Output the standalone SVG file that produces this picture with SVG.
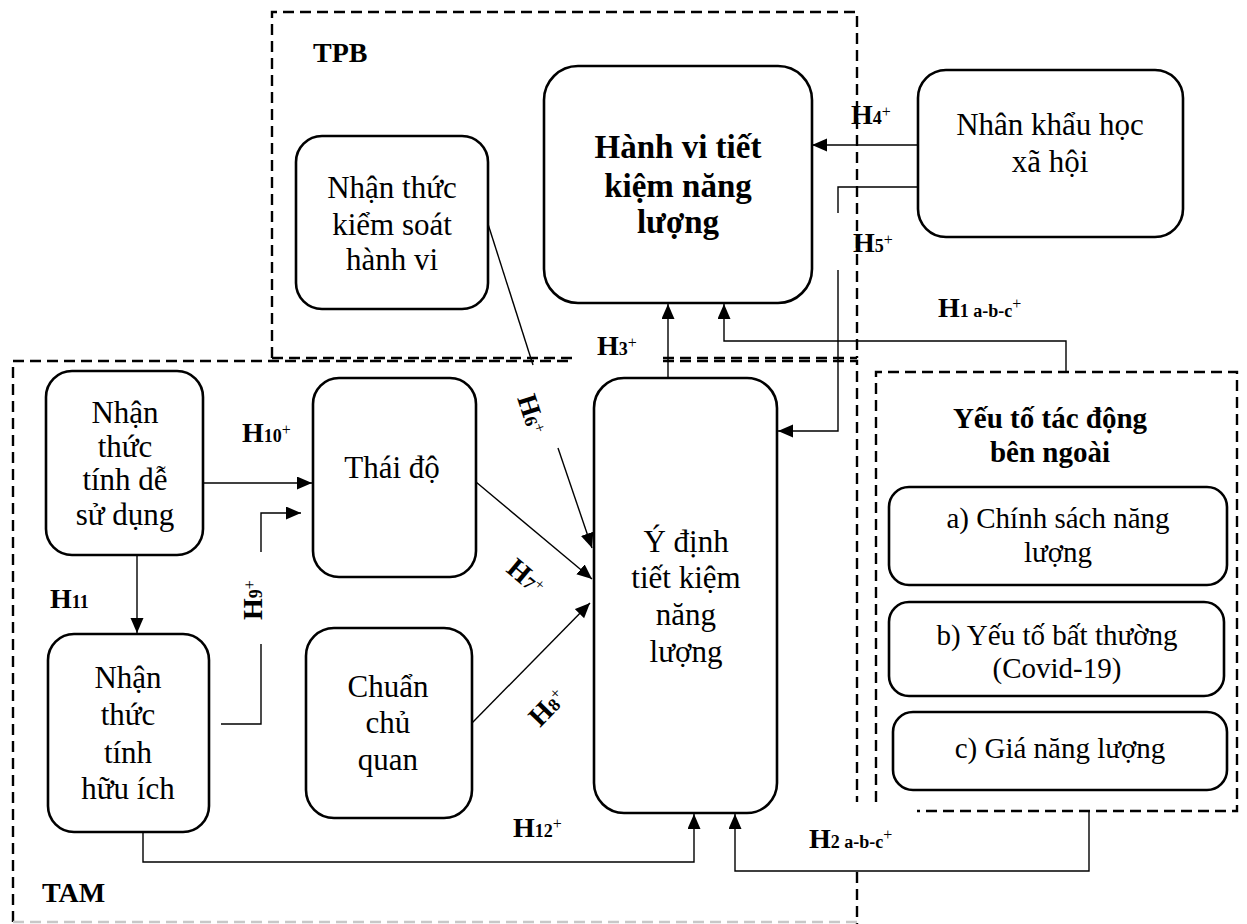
<svg xmlns="http://www.w3.org/2000/svg" width="1247" height="924" viewBox="0 0 1247 924">
<defs>
<marker id="ah" markerUnits="userSpaceOnUse" markerWidth="16" markerHeight="14" refX="15" refY="6.5" orient="auto">
<path d="M0,0 L15,6.5 L0,13 Z" fill="#000"/>
</marker>
<style>
.node{fill:#fff;stroke:#000;stroke-width:2.6}
.t{font-family:"Liberation Serif","Times New Roman",serif;font-size:31px;fill:#000;text-anchor:middle}
.ts{font-family:"Liberation Serif","Times New Roman",serif;font-size:29px;fill:#000;text-anchor:middle}
.tb{font-family:"Liberation Serif","Times New Roman",serif;font-size:33px;font-weight:bold;fill:#000;text-anchor:middle}
.title{font-family:"Liberation Serif","Times New Roman",serif;font-size:29px;font-weight:bold;fill:#000;text-anchor:middle}
.grp{font-family:"Liberation Serif","Times New Roman",serif;font-size:28px;font-weight:bold;fill:#000}
.dash{fill:none;stroke:#000;stroke-width:2.4;stroke-dasharray:11 6}
.dashg{fill:none;stroke:#c8c8c8;stroke-width:2.4;stroke-dasharray:11 6}
.c{fill:none;stroke:#000;stroke-width:1.4}
.ca{fill:none;stroke:#000;stroke-width:1.4;marker-end:url(#ah)}
.hl{font-family:"Liberation Serif","Times New Roman",serif;font-size:28px;font-weight:bold;fill:#000}
.sub{font-size:18px}
.sup{font-size:16px;font-weight:normal}
</style>
</defs>
<rect width="1247" height="924" fill="#fff"/>

<g id="frames">
<path class="dash" d="M272,358 V12 H857 V358"/>
<path class="dash" d="M272,358 H573 M663,358 H857"/>
<path class="dash" d="M13,922 V361 H573 M663,361 H857 V802 M857,872 V924"/>
<path class="dashg" d="M13,922 H857"/>
<path class="dash" d="M876,802 V372 H1237 V811 H917"/>
<text class="grp" x="313" y="62">TPB</text>
<text class="grp" x="42" y="902">TAM</text>
</g>

<g id="connectors">
<path class="ca" d="M918,145 H812"/>
<path class="c" d="M918,187 H838 V213"/>
<path class="ca" d="M838,270 V431 H778"/>
<path class="ca" d="M668,378 V304"/>
<path class="ca" d="M1066,372 V341 H724 V304"/>
<path class="ca" d="M203,483 H312"/>
<path class="c" d="M221,724 H261 V644"/>
<path class="ca" d="M261,552 V513 H301"/>
<path class="ca" d="M137,555 V633"/>
<path class="c" d="M488,224 L533,365"/>
<path class="ca" d="M558,448 L592,548"/>
<path class="ca" d="M476,482 L592,579"/>
<path class="ca" d="M472,723 L590,603"/>
<path class="ca" d="M143,825 V862 H694 V814"/>
<path class="ca" d="M1089,811 V871 H735 V814"/>

<text class="hl" x="851" y="124">H<tspan class="sub">4</tspan><tspan class="sup" dy="-7">+</tspan></text>
<text class="hl" x="853" y="252">H<tspan class="sub">5</tspan><tspan class="sup" dy="-7">+</tspan></text>
<text class="hl" x="597" y="355">H<tspan class="sub">3</tspan><tspan class="sup" dy="-7">+</tspan></text>
<text class="hl" x="938" y="317">H<tspan class="sub">1 a-b-c</tspan><tspan class="sup" dy="-8">+</tspan></text>
<text class="hl" x="242" y="442">H<tspan class="sub">10</tspan><tspan class="sup" dy="-7">+</tspan></text>
<text class="hl" x="50" y="608">H<tspan class="sub">11</tspan></text>
<text class="hl" transform="translate(262,620) rotate(-90)">H<tspan class="sub">9</tspan><tspan class="sup" dy="-7">+</tspan></text>
<text class="hl" transform="translate(517,398) rotate(72)">H<tspan class="sub">6</tspan><tspan class="sup" dy="-7">+</tspan></text>
<text class="hl" transform="translate(505,571) rotate(40)">H<tspan class="sub">7</tspan><tspan class="sup" dy="-7">+</tspan></text>
<text class="hl" transform="translate(540,728) rotate(-46)">H<tspan class="sub">8</tspan><tspan class="sup" dy="-8">+</tspan></text>
<text class="hl" x="513" y="837">H<tspan class="sub">12</tspan><tspan class="sup" dy="-8">+</tspan></text>
<text class="hl" x="809" y="848">H<tspan class="sub">2 a-b-c</tspan><tspan class="sup" dy="-8">+</tspan></text>
</g>

<g id="node-kiem-soat">
<rect class="node" x="296" y="136" width="192" height="173" rx="26"/>
<text class="t" x="392" y="198">Nhận thức</text>
<text class="t" x="392" y="235">kiểm soát</text>
<text class="t" x="392" y="270">hành vi</text>
</g>

<g id="node-hanh-vi">
<rect class="node" x="544" y="66" width="268" height="237" rx="34"/>
<text class="tb" x="678" y="158">Hành vi tiết</text>
<text class="tb" x="678" y="197">kiệm năng</text>
<text class="tb" x="678" y="233">lượng</text>
</g>

<g id="node-nhan-khau">
<rect class="node" x="918" y="70" width="265" height="167" rx="28"/>
<text class="t" x="1050" y="135">Nhân khẩu học</text>
<text class="t" x="1050" y="172">xã hội</text>
</g>

<g id="node-de-su-dung">
<rect class="node" x="46" y="371" width="157" height="184" rx="26"/>
<text class="t" x="125" y="423">Nhận</text>
<text class="t" x="125" y="457">thức</text>
<text class="t" x="125" y="490">tính dễ</text>
<text class="t" x="125" y="525">sử dụng</text>
</g>

<g id="node-thai-do">
<rect class="node" x="313" y="378" width="163" height="199" rx="26"/>
<text class="t" x="392" y="478">Thái độ</text>
</g>

<g id="node-huu-ich">
<rect class="node" x="48" y="634" width="161" height="198" rx="26"/>
<text class="t" x="128" y="688">Nhận</text>
<text class="t" x="128" y="725">thức</text>
<text class="t" x="128" y="763">tính</text>
<text class="t" x="128" y="799">hữu ích</text>
</g>

<g id="node-chuan">
<rect class="node" x="306" y="628" width="166" height="190" rx="28"/>
<text class="t" x="388" y="697">Chuẩn</text>
<text class="t" x="388" y="733">chủ</text>
<text class="t" x="388" y="770">quan</text>
</g>

<g id="node-y-dinh">
<rect class="node" x="594" y="378" width="183" height="435" rx="30"/>
<text class="t" x="686" y="552">Ý định</text>
<text class="t" x="686" y="588">tiết kiệm</text>
<text class="t" x="686" y="625">năng</text>
<text class="t" x="686" y="662">lượng</text>
</g>

<g id="node-ben-ngoai">
<text class="title" x="1050" y="428">Yếu tố tác động</text>
<text class="title" x="1050" y="462">bên ngoài</text>
</g>

<g id="node-a">
<rect class="node" x="889" y="487" width="338" height="98" rx="20"/>
<text class="ts" x="1058" y="528">a) Chính sách năng</text>
<text class="ts" x="1058" y="562">lượng</text>
</g>

<g id="node-b">
<rect class="node" x="889" y="602" width="335" height="94" rx="20"/>
<text class="ts" x="1057" y="645">b) Yếu tố bất thường</text>
<text class="ts" x="1057" y="678">(Covid-19)</text>
</g>

<g id="node-c">
<rect class="node" x="893" y="712" width="334" height="78" rx="20"/>
<text class="ts" x="1060" y="758">c) Giá năng lượng</text>
</g>
</svg>
